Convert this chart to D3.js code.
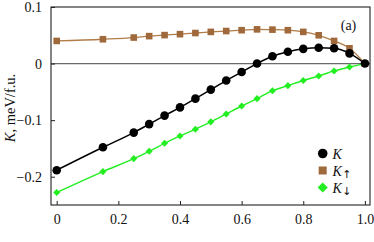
<!DOCTYPE html>
<html><head><meta charset="utf-8">
<script src="https://cdn.jsdelivr.net/npm/d3@7"></script>
<style>
html,body{margin:0;padding:0;background:#fff;}
svg{display:block;font-family:"Liberation Serif","Times New Roman",serif;}
</style></head>
<body>
<svg id="chart" width="374" height="242"></svg>
<script>
const xs = [0, 0.15, 0.25, 0.3, 0.35, 0.4, 0.45, 0.5, 0.55, 0.6, 0.65, 0.7, 0.75, 0.8, 0.85, 0.9, 0.95, 1.0];
const kTotal = [-0.1885, -0.148, -0.122, -0.107, -0.092, -0.0775, -0.062, -0.046, -0.030, -0.015, 0.0, 0.013, 0.021, 0.026, 0.028, 0.027, 0.018, 0.0];
const kUp = [0.040, 0.043, 0.046, 0.0485, 0.0503, 0.052, 0.054, 0.056, 0.0575, 0.059, 0.0605, 0.060, 0.059, 0.056, 0.050, 0.040, 0.027, 0.0];
const kDown = [-0.228, -0.191, -0.168, -0.155, -0.141, -0.128, -0.116, -0.103, -0.089, -0.075, -0.062, -0.048, -0.039, -0.030, -0.022, -0.013, -0.006, 0.0];
const xTicks = [0, 0.2, 0.4, 0.6, 0.8, 1.0];
const xTickLabels = ["0", "0.2", "0.4", "0.6", "0.8", "1.0"];
const yTicks = [-0.2, -0.1, 0, 0.1];
const yTickLabels = ["\u22120.2", "\u22120.1", "0", "0.1"];

const svg = d3.select("#chart");
const x = d3.scaleLinear().domain([-0.0185, 1.0165]).range([51, 370]);
const y = d3.scaleLinear().domain([-0.25, 0.1]).range([205, 7]);

const BROWN = "#a0693b", BROWN_LINE = "#b07c48", GREEN = "#22ee22";

// zero line
svg.append("line").attr("x1", x.range()[0]).attr("x2", x.range()[1])
  .attr("y1", y(0)).attr("y2", y(0)).attr("stroke", "#6a6a6a").attr("stroke-width", 1.2);

// frame
svg.append("rect").attr("x", x.range()[0]).attr("y", y.range()[1])
  .attr("width", x.range()[1] - x.range()[0]).attr("height", y.range()[0] - y.range()[1])
  .attr("fill", "none").attr("stroke", "#222").attr("stroke-width", 1.1);

// axes
const xAxis = d3.axisBottom(x).tickValues(xTicks).tickSizeInner(-4).tickSizeOuter(0)
  .tickPadding(9).tickFormat((d, i) => xTickLabels[i]);
const gx = svg.append("g").attr("transform", `translate(0,${y.range()[0]})`).call(xAxis);
gx.select(".domain").remove();
gx.selectAll("text").attr("font-size", 14).attr("font-family", "Liberation Serif").attr("fill", "#111");
gx.selectAll("line").attr("stroke", "#222");

const yAxis = d3.axisLeft(y).tickValues(yTicks).tickSizeInner(-4).tickSizeOuter(0)
  .tickPadding(9).tickFormat((d, i) => yTickLabels[i]);
const gy = svg.append("g").attr("transform", `translate(${x.range()[0]},0)`).call(yAxis);
gy.select(".domain").remove();
gy.selectAll("text").attr("font-size", 14).attr("font-family", "Liberation Serif").attr("fill", "#111");
gy.selectAll("line").attr("stroke", "#222");

// y label
const yl = svg.append("text").attr("transform", `translate(15,${(y.range()[0] + y.range()[1]) / 2 + 2}) rotate(-90)`)
  .attr("text-anchor", "middle").attr("font-size", 14.5).attr("fill", "#111");
yl.append("tspan").attr("font-style", "italic").text("K");
yl.append("tspan").text(", meV/f.u.");

const line = d3.line().curve(d3.curveMonotoneX);
function series(vals, color, w) {
  svg.append("path").attr("d", line(xs.map((d, i) => [x(d), y(vals[i])])))
    .attr("fill", "none").attr("stroke", color).attr("stroke-width", w);
}
series(kUp, BROWN_LINE, 1.3);
series(kDown, GREEN, 1.4);
series(kTotal, "#000", 1.5);

// markers
svg.append("g").selectAll("rect").data(xs).join("rect")
  .attr("x", (d) => x(d) - 3.3).attr("y", (d, i) => y(kUp[i]) - 3.3)
  .attr("width", 6.6).attr("height", 6.6).attr("fill", BROWN);
svg.append("g").selectAll("rect").data(xs).join("rect")
  .attr("transform", (d, i) => `translate(${x(d)},${y(kDown[i])}) rotate(45)`)
  .attr("x", -2.5).attr("y", -2.5).attr("width", 5).attr("height", 5).attr("fill", GREEN);
svg.append("g").selectAll("circle").data(xs).join("circle")
  .attr("cx", (d) => x(d)).attr("cy", (d, i) => y(kTotal[i])).attr("r", 4.3).attr("fill", "#000");

// (a)
svg.append("text").attr("x", 348.5).attr("y", 30).attr("text-anchor", "middle")
  .attr("font-size", 14).attr("fill", "#111").text("(a)");

// legend
const legend = [
  {name: "K", sub: "", type: "circle", color: "#000"},
  {name: "K", sub: "\u2191", type: "square", color: BROWN},
  {name: "K", sub: "\u2193", type: "diamond", color: GREEN}
];
const lg = svg.append("g");
legend.forEach((d, i) => {
  const cy = 153.5 + i * 17;
  const cx = 322.7;
  if (d.type === "circle") lg.append("circle").attr("cx", cx).attr("cy", cy).attr("r", 4.8).attr("fill", d.color);
  else if (d.type === "square") lg.append("rect").attr("x", cx - 4).attr("y", cy - 4).attr("width", 8).attr("height", 8).attr("fill", d.color);
  else lg.append("rect").attr("transform", `translate(${cx},${cy}) rotate(45)`).attr("x", -3.6).attr("y", -3.6).attr("width", 7.2).attr("height", 7.2).attr("fill", d.color);
  const t = lg.append("text").attr("x", 332.5).attr("y", cy + 5).attr("font-size", 14).attr("fill", "#111");
  t.append("tspan").attr("font-style", "italic").text(d.name);
  if (d.sub) t.append("tspan").attr("font-size", 11).attr("font-family", "DejaVu Sans").attr("dy", 2.5).attr("dx", 0.5).text(d.sub);
});
</script>
</body></html>
